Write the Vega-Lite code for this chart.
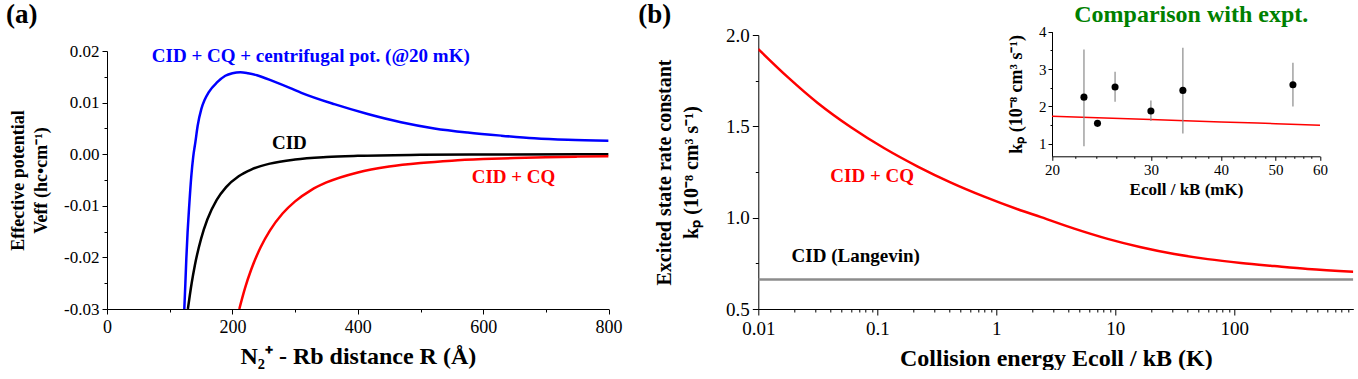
{
  "$schema": "https://vega.github.io/schema/vega-lite/v6.json",
  "padding": {"left": 5, "top": 0, "right": 0, "bottom": 0},
  "background": "white",
  "config": {
    "view": {"stroke": null},
    "font": "Liberation Serif",
    "axis": {"labelFont": "Liberation Serif", "titleFont": "Liberation Serif", "labelColor": "#000", "titleColor": "#000", "domainColor": "#000", "tickColor": "#000", "titleFontWeight": "bold", "grid": false, "labelFlush": false, "labelOverlap": false, "domainWidth": 1, "tickWidth": 1},
    "text": {"font": "Liberation Serif"}
  },
  "datasets": {
    "expt": [
      {"E": 22.8, "k": 2.25, "lo": 0.94, "hi": 3.52},
      {"E": 24.1, "k": 1.55, "lo": 1.55, "hi": 1.55},
      {"E": 25.9, "k": 2.52, "lo": 2.13, "hi": 2.93},
      {"E": 30.0, "k": 1.88, "lo": 1.61, "hi": 2.16},
      {"E": 34.2, "k": 2.43, "lo": 1.28, "hi": 3.57},
      {"E": 53.7, "k": 2.58, "lo": 2.00, "hi": 3.17}
    ]
  },
  "bounds": "flush",
  "spacing": 651.3,
  "resolve": {"scale": {"color": "independent"}},
  "hconcat": [
    {
      "vconcat": [
        {"width": 500, "height": 16, "data": {"values": []}, "mark": "point"},
        {
          "width": 501.6, "height": 258,
          "layer": [
            {
              "data": {"values": [
                {"curve": "CID + CQ + centrifugal", "R": 123.3, "V": -0.030},
                {"curve": "CID + CQ + centrifugal", "R": 125.0, "V": -0.025},
                {"curve": "CID + CQ + centrifugal", "R": 126.5, "V": -0.0203},
                {"curve": "CID + CQ + centrifugal", "R": 128.5, "V": -0.0152},
                {"curve": "CID + CQ + centrifugal", "R": 130.8, "V": -0.0106},
                {"curve": "CID + CQ + centrifugal", "R": 134.5, "V": -0.0042},
                {"curve": "CID + CQ + centrifugal", "R": 137.5, "V": -0.0005},
                {"curve": "CID + CQ + centrifugal", "R": 140.9, "V": 0.0023},
                {"curve": "CID + CQ + centrifugal", "R": 144.6, "V": 0.0055},
                {"curve": "CID + CQ + centrifugal", "R": 150.5, "V": 0.0088},
                {"curve": "CID + CQ + centrifugal", "R": 156.0, "V": 0.0106},
                {"curve": "CID + CQ + centrifugal", "R": 162.1, "V": 0.0120},
                {"curve": "CID + CQ + centrifugal", "R": 175.4, "V": 0.0139},
                {"curve": "CID + CQ + centrifugal", "R": 188.7, "V": 0.0152},
                {"curve": "CID + CQ + centrifugal", "R": 200.0, "V": 0.0157},
                {"curve": "CID + CQ + centrifugal", "R": 212.7, "V": 0.0159},
                {"curve": "CID + CQ + centrifugal", "R": 225.0, "V": 0.0157},
                {"curve": "CID + CQ + centrifugal", "R": 239.2, "V": 0.0153},
                {"curve": "CID + CQ + centrifugal", "R": 265.8, "V": 0.0141},
                {"curve": "CID + CQ + centrifugal", "R": 292.4, "V": 0.0128},
                {"curve": "CID + CQ + centrifugal", "R": 310.0, "V": 0.0119},
                {"curve": "CID + CQ + centrifugal", "R": 362.5, "V": 0.0097},
                {"curve": "CID + CQ + centrifugal", "R": 415.8, "V": 0.0078},
                {"curve": "CID + CQ + centrifugal", "R": 468.9, "V": 0.0062},
                {"curve": "CID + CQ + centrifugal", "R": 522.0, "V": 0.0050},
                {"curve": "CID + CQ + centrifugal", "R": 575.3, "V": 0.0042},
                {"curve": "CID + CQ + centrifugal", "R": 628.4, "V": 0.0036},
                {"curve": "CID + CQ + centrifugal", "R": 681.5, "V": 0.0031},
                {"curve": "CID + CQ + centrifugal", "R": 734.8, "V": 0.0028},
                {"curve": "CID + CQ + centrifugal", "R": 800.0, "V": 0.0026},
                {"curve": "CID", "R": 129, "V": -0.0300},
                {"curve": "CID", "R": 135, "V": -0.0250},
                {"curve": "CID", "R": 140, "V": -0.0216},
                {"curve": "CID", "R": 150, "V": -0.0164},
                {"curve": "CID", "R": 160, "V": -0.01266},
                {"curve": "CID", "R": 175, "V": -0.00885},
                {"curve": "CID", "R": 190, "V": -0.00637},
                {"curve": "CID", "R": 210, "V": -0.00427},
                {"curve": "CID", "R": 230, "V": -0.00297},
                {"curve": "CID", "R": 260, "V": -0.00182},
                {"curve": "CID", "R": 300, "V": -0.00102},
                {"curve": "CID", "R": 350, "V": -0.00055},
                {"curve": "CID", "R": 400, "V": -0.00032},
                {"curve": "CID", "R": 500, "V": -0.00013},
                {"curve": "CID", "R": 600, "V": -0.000064},
                {"curve": "CID", "R": 800, "V": -0.00002},
                {"curve": "CID + CQ", "R": 211, "V": -0.0300},
                {"curve": "CID + CQ", "R": 220, "V": -0.0260},
                {"curve": "CID + CQ", "R": 230, "V": -0.02235},
                {"curve": "CID + CQ", "R": 245, "V": -0.01804},
                {"curve": "CID + CQ", "R": 260, "V": -0.01476},
                {"curve": "CID + CQ", "R": 280, "V": -0.0115},
                {"curve": "CID + CQ", "R": 300, "V": -0.00914},
                {"curve": "CID + CQ", "R": 325, "V": -0.0070},
                {"curve": "CID + CQ", "R": 350, "V": -0.00548},
                {"curve": "CID + CQ", "R": 400, "V": -0.00353},
                {"curve": "CID + CQ", "R": 450, "V": -0.0024},
                {"curve": "CID + CQ", "R": 500, "V": -0.00171},
                {"curve": "CID + CQ", "R": 550, "V": -0.00125},
                {"curve": "CID + CQ", "R": 600, "V": -0.00095},
                {"curve": "CID + CQ", "R": 650, "V": -0.00073},
                {"curve": "CID + CQ", "R": 700, "V": -0.00058},
                {"curve": "CID + CQ", "R": 750, "V": -0.00047},
                {"curve": "CID + CQ", "R": 800, "V": -0.00038}
              ]},
              "mark": {"type": "line", "strokeWidth": 2.5, "interpolate": "monotone", "clip": true},
              "encoding": {
                "x": {"field": "R", "type": "quantitative", "scale": {"domain": [0, 800], "nice": false, "zero": false},
                      "axis": {"orient": "bottom", "values": [0, 200, 400, 600, 800], "format": "d", "tickSize": 5, "labelPadding": 4, "labelFontSize": 18, "title": "N₂⁺ - Rb distance R (Å)", "titleFontSize": 24, "titlePadding": 8}},
                "y": {"field": "V", "type": "quantitative", "scale": {"domain": [-0.03, 0.02], "nice": false, "zero": false},
                      "axis": {"orient": "left", "values": [-0.03, -0.02, -0.01, 0, 0.01, 0.02], "labelExpr": "(datum.value < -0.0001 ? '-' : '') + format(abs(datum.value), '.2f')", "tickSize": 5, "labelPadding": 3, "labelFontSize": 17, "title": ["Effective potential", "Veff (hc•cm⁻¹)"], "titleFontSize": 18, "titleLineHeight": 23, "titlePadding": 13}},
                "color": {"field": "curve", "type": "nominal", "scale": {"domain": ["CID + CQ + centrifugal", "CID", "CID + CQ"], "range": ["#0000ff", "#000000", "#ff0000"]}, "legend": null}
              }
            },
            {
              "data": {"values": [
                {"curve": "CID + CQ + centrifugal", "R": 325, "V": 0.0191, "label": "CID + CQ + centrifugal pot. (@20 mK)"},
                {"curve": "CID", "R": 290.8, "V": 0.0021, "label": "CID"},
                {"curve": "CID + CQ", "R": 648.3, "V": -0.0045, "label": "CID + CQ"}
              ]},
              "mark": {"type": "text", "fontSize": 19, "fontWeight": "bold", "baseline": "middle", "align": "center"},
              "encoding": {
                "x": {"field": "R", "type": "quantitative", "axis": null},
                "y": {"field": "V", "type": "quantitative", "axis": null},
                "text": {"field": "label"},
                "color": {"field": "curve", "type": "nominal", "legend": null}
              }
            },
            {
              "data": {"values": [{"R": -161.1, "V": 0.025465, "label": "(a)"}]},
              "mark": {"type": "text", "fontSize": 27, "fontWeight": "bold", "baseline": "alphabetic", "align": "left", "color": "#000000"},
              "encoding": {
                "x": {"field": "R", "type": "quantitative", "axis": null},
                "y": {"field": "V", "type": "quantitative", "axis": null},
                "text": {"field": "label"}
              }
            },
            {
              "data": {"values": [{"R": 0, "V": 0}]},
              "mark": {"type": "point", "opacity": 0},
              "encoding": {
                "x": {"field": "R", "type": "quantitative", "axis": {"orient": "bottom", "values": [100, 300, 500, 700], "labels": false, "tickSize": 3, "domain": false, "title": null}},
                "y": {"field": "V", "type": "quantitative", "axis": {"orient": "left", "values": [-0.025, -0.015, -0.005, 0.005, 0.015], "labels": false, "tickSize": 3, "domain": false, "title": null}}
              }
            }
          ],
          "resolve": {"axis": {"x": "independent", "y": "independent"}}
        }
      ],
      "spacing": 0,
      "bounds": "flush"
    },
    {
      "width": 595, "height": 274,
      "layer": [
        {
          "layer": [
            {
              "data": {"values": [
                {"E": 0.01, "k": 1.923},
                {"E": 0.01778, "k": 1.768},
                {"E": 0.03155, "k": 1.628},
                {"E": 0.0601, "k": 1.495},
                {"E": 0.1146, "k": 1.380},
                {"E": 0.2188, "k": 1.280},
                {"E": 0.4159, "k": 1.192},
                {"E": 0.7925, "k": 1.115},
                {"E": 1.514, "k": 1.046},
                {"E": 2.377, "k": 1.003},
                {"E": 4.519, "k": 0.940},
                {"E": 8.630, "k": 0.884},
                {"E": 16.44, "k": 0.838},
                {"E": 31.33, "k": 0.801},
                {"E": 59.84, "k": 0.773},
                {"E": 113.8, "k": 0.752},
                {"E": 216.8, "k": 0.735},
                {"E": 414.0, "k": 0.719},
                {"E": 1000, "k": 0.704}
              ]},
              "mark": {"type": "line", "strokeWidth": 2.5, "interpolate": "monotone", "clip": true, "color": "#ff0000"},
              "encoding": {
                "x": {"field": "E", "type": "quantitative", "scale": {"type": "log", "domain": [0.01, 1000], "nice": false},
                      "axis": {"orient": "bottom", "values": [0.01, 0.1, 1, 10, 100], "format": "~g", "tickSize": 6, "labelPadding": 4, "labelFontSize": 19, "title": "Collision energy Ecoll / kB (K)", "titleFontSize": 24, "titlePadding": 8}},
                "y": {"field": "k", "type": "quantitative", "scale": {"domain": [0.5, 2.0], "nice": false, "zero": false},
                      "axis": {"orient": "left", "values": [0.5, 1, 1.5, 2], "format": ".1f", "tickSize": 6, "labelPadding": 3, "labelFontSize": 19, "title": ["Excited state rate constant", "kₚ (10⁻⁸ cm³ s⁻¹)"], "titleFontSize": 20, "titleLineHeight": 27, "titlePadding": 24}}
              }
            },
            {
              "data": {"values": [{"E": 0.01, "k": 0.661}, {"E": 1000, "k": 0.661}]},
              "mark": {"type": "line", "strokeWidth": 2.5, "color": "#8c8c8c", "clip": true},
              "encoding": {
                "x": {"field": "E", "type": "quantitative", "axis": null},
                "y": {"field": "k", "type": "quantitative", "axis": null}
              }
            },
            {
              "data": {"values": [{"E": 0.0906, "k": 1.2255, "label": "CID + CQ"}]},
              "mark": {"type": "text", "fontSize": 19, "fontWeight": "bold", "color": "#ff0000", "baseline": "middle", "align": "center"},
              "encoding": {
                "x": {"field": "E", "type": "quantitative", "axis": null},
                "y": {"field": "k", "type": "quantitative", "axis": null},
                "text": {"field": "label"}
              }
            },
            {
              "data": {"values": [{"E": 0.0658, "k": 0.7876, "label": "CID (Langevin)"}]},
              "mark": {"type": "text", "fontSize": 19, "fontWeight": "bold", "color": "#000000", "baseline": "middle", "align": "center"},
              "encoding": {
                "x": {"field": "E", "type": "quantitative", "axis": null},
                "y": {"field": "k", "type": "quantitative", "axis": null},
                "text": {"field": "label"}
              }
            },
            {
              "data": {"values": [{"E": 0.000981, "k": 2.0668, "label": "(b)"}]},
              "mark": {"type": "text", "fontSize": 27, "fontWeight": "bold", "color": "#000000", "baseline": "alphabetic", "align": "left"},
              "encoding": {
                "x": {"field": "E", "type": "quantitative", "axis": null},
                "y": {"field": "k", "type": "quantitative", "axis": null},
                "text": {"field": "label"}
              }
            },
            {
              "data": {"values": [{"E": 1, "k": 1}]},
              "mark": {"type": "point", "opacity": 0},
              "encoding": {
                "x": {"field": "E", "type": "quantitative", "axis": {"orient": "bottom", "values": [0.02, 0.03, 0.04, 0.05, 0.06, 0.07, 0.08, 0.09, 0.2, 0.3, 0.4, 0.5, 0.6, 0.7, 0.8, 0.9, 2, 3, 4, 5, 6, 7, 8, 9, 20, 30, 40, 50, 60, 70, 80, 90, 200, 300, 400, 500, 600, 700, 800, 900], "labels": false, "tickSize": 3, "domain": false, "title": null}},
                "y": {"field": "k", "type": "quantitative", "axis": {"orient": "left", "values": [0.75, 1.25, 1.75], "labels": false, "tickSize": 3, "domain": false, "title": null}}
              }
            }
          ],
          "resolve": {"axis": {"x": "independent", "y": "independent"}}
        },
        {
          "layer": [
            {
              "data": {"values": [
                {"E": 20, "k": 1.74}, {"E": 30, "k": 1.651}, {"E": 40, "k": 1.589}, {"E": 50, "k": 1.54}, {"E": 60, "k": 1.50}
              ]},
              "mark": {"type": "line", "color": "#ff0000", "strokeWidth": 1.5, "interpolate": "monotone"},
              "encoding": {
                "x": {"field": "E", "type": "quantitative", "scale": {"type": "log", "domain": [20, 60], "nice": false, "range": [293.7, 561.7]},
                      "axis": {"orient": "bottom", "offset": -152.7, "values": [20, 30, 40, 50, 60], "format": "d", "tickSize": 4, "labelPadding": 2, "labelFontSize": 15, "title": "Ecoll / kB (mK)", "titleFontSize": 17, "titlePadding": 4}},
                "y": {"field": "k", "type": "quantitative", "scale": {"domain": [0.67, 4], "nice": false, "zero": false, "range": [121.3, -3.4]},
                      "axis": {"orient": "left", "offset": -293.7, "values": [1, 2, 3, 4], "format": "d", "tickSize": 4, "labelPadding": 2, "labelFontSize": 15, "title": "kₚ (10⁻⁸ cm³ s⁻¹)", "titleFontSize": 18, "titlePadding": 13}}
              }
            },
            {
              "data": {"name": "expt"},
              "mark": {"type": "rule", "color": "#8a8a8a", "strokeWidth": 1.2},
              "encoding": {
                "x": {"field": "E", "type": "quantitative", "axis": null},
                "y": {"field": "lo", "type": "quantitative", "axis": null},
                "y2": {"field": "hi"}
              }
            },
            {
              "data": {"name": "expt"},
              "mark": {"type": "circle", "color": "#000000", "size": 50, "opacity": 1},
              "encoding": {
                "x": {"field": "E", "type": "quantitative", "axis": null},
                "y": {"field": "k", "type": "quantitative", "axis": null}
              }
            },
            {
              "data": {"values": [{"E": 35.4, "k": 4.262, "label": "Comparison with expt."}]},
              "mark": {"type": "text", "fontSize": 24, "fontWeight": "bold", "color": "#008000", "baseline": "alphabetic", "align": "center"},
              "encoding": {
                "x": {"field": "E", "type": "quantitative", "axis": null},
                "y": {"field": "k", "type": "quantitative", "axis": null},
                "text": {"field": "label"}
              }
            },
            {
              "data": {"values": [{"E": 30, "k": 2}]},
              "mark": {"type": "point", "opacity": 0},
              "encoding": {
                "x": {"field": "E", "type": "quantitative", "axis": {"orient": "bottom", "offset": -152.7, "values": [22, 24, 26, 28, 32, 34, 36, 38, 42, 44, 46, 48, 52, 54, 56, 58], "labels": false, "tickSize": 2, "domain": false, "title": null}},
                "y": {"field": "k", "type": "quantitative", "axis": {"orient": "left", "offset": -293.7, "values": [1.5, 2.5, 3.5], "labels": false, "tickSize": 2, "domain": false, "title": null}}
              }
            }
          ],
          "resolve": {"axis": {"x": "independent", "y": "independent"}}
        }
      ],
      "resolve": {"scale": {"x": "independent", "y": "independent"}, "axis": {"x": "independent", "y": "independent"}}
    }
  ]
}
